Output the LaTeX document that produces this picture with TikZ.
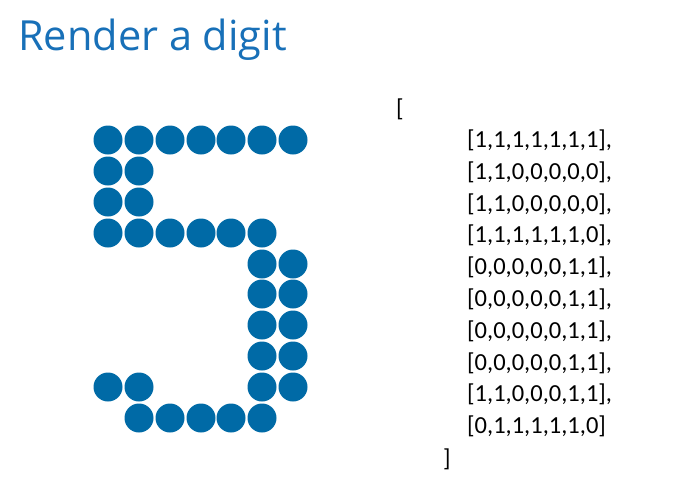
\documentclass[tikz,border=0pt]{standalone}
\usepackage{fontspec}
\setmainfont{Carlito}
\newfontfamily\titlefont{Open Sans}
\definecolor{pixelblue}{RGB}{0,106,166}
\definecolor{titleblue}{RGB}{24,112,184}
\tikzset{
  pixel/.style={fill=pixelblue},
  rowtext/.style={anchor=base west, inner sep=0pt, font=\fontsize{24.5}{24.5}\selectfont},
}

\begin{document}
\begin{tikzpicture}[x=1pt, y=-1pt]
\useasboundingbox (0,0) rectangle (695,498);

\node[anchor=base west, inner sep=0pt, text=titleblue, font=\titlefont\fontsize{41.5}{41.5}\selectfont] (title) at (18,50) {Render a digit};

% row 1
\fill[pixel] (108,140) circle (14.5pt);
\fill[pixel] (139,140) circle (14.5pt);
\fill[pixel] (170,140) circle (14.5pt);
\fill[pixel] (201,140) circle (14.5pt);
\fill[pixel] (231,140) circle (14.5pt);
\fill[pixel] (262,140) circle (14.5pt);
\fill[pixel] (293,140) circle (14.5pt);
% rows 2 and 3
\fill[pixel] (108,171) circle (14.5pt);
\fill[pixel] (139,171) circle (14.5pt);
\fill[pixel] (108,202) circle (14.5pt);
\fill[pixel] (139,202) circle (14.5pt);
% row 4
\fill[pixel] (108,233) circle (14.5pt);
\fill[pixel] (139,233) circle (14.5pt);
\fill[pixel] (170,233) circle (14.5pt);
\fill[pixel] (201,233) circle (14.5pt);
\fill[pixel] (231,233) circle (14.5pt);
\fill[pixel] (262,233) circle (14.5pt);
% rows 5 to 8
\fill[pixel] (262,264) circle (14.5pt);
\fill[pixel] (293,264) circle (14.5pt);
\fill[pixel] (262,294) circle (14.5pt);
\fill[pixel] (293,294) circle (14.5pt);
\fill[pixel] (262,325) circle (14.5pt);
\fill[pixel] (293,325) circle (14.5pt);
\fill[pixel] (262,356) circle (14.5pt);
\fill[pixel] (293,356) circle (14.5pt);
% row 9
\fill[pixel] (108,387) circle (14.5pt);
\fill[pixel] (139,387) circle (14.5pt);
\fill[pixel] (262,387) circle (14.5pt);
\fill[pixel] (293,387) circle (14.5pt);
% row 10
\fill[pixel] (139,418) circle (14.5pt);
\fill[pixel] (170,418) circle (14.5pt);
\fill[pixel] (201,418) circle (14.5pt);
\fill[pixel] (231,418) circle (14.5pt);
\fill[pixel] (262,418) circle (14.5pt);

\node[rowtext] (open) at (396,116) {[};
\node[rowtext] (row1) at (467,147) {[1,1,1,1,1,1,1],};
\node[rowtext] (row2) at (467,179) {[1,1,0,0,0,0,0],};
\node[rowtext] (row3) at (467,211) {[1,1,0,0,0,0,0],};
\node[rowtext] (row4) at (467,242) {[1,1,1,1,1,1,0],};
\node[rowtext] (row5) at (467,274) {[0,0,0,0,0,1,1],};
\node[rowtext] (row6) at (467,306) {[0,0,0,0,0,1,1],};
\node[rowtext] (row7) at (467,338) {[0,0,0,0,0,1,1],};
\node[rowtext] (row8) at (467,370) {[0,0,0,0,0,1,1],};
\node[rowtext] (row9) at (467,401) {[1,1,0,0,0,1,1],};
\node[rowtext] (row10) at (467,433) {[0,1,1,1,1,1,0]};
\node[rowtext] (close) at (443,466) {]};
\end{tikzpicture}
\end{document}
